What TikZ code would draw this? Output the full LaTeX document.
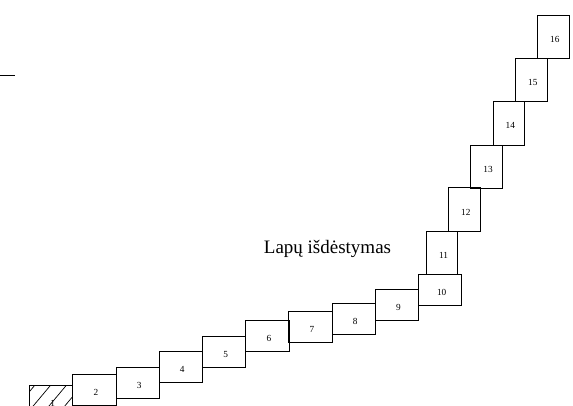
\documentclass[tikz,border=0pt]{standalone}
\usepackage{fontspec}
\setmainfont{Liberation Serif}
\begin{document}
\begin{tikzpicture}[x=1pt,y=1pt,
  lbox/.style={draw=black,line width=0.8pt,minimum width=43.3pt,minimum height=31pt,inner sep=0pt,outer sep=0pt},
  pbox/.style={draw=black,line width=0.8pt,minimum width=31.3pt,minimum height=43.3pt,inner sep=0pt,outer sep=0pt},
  num/.style={font=\fontsize{9.3}{10}\selectfont,inner sep=0pt},
  hatch/.style={line width=0.7pt}]
\useasboundingbox (0,0) rectangle (573,405);
\clip (0,0) rectangle (573,405);
% landscape boxes
\node[lbox] (b1) at (51.2,4.5) {};
\node[lbox] (b2) at (94.35,15.2) {};
\node[lbox] (b3) at (137.65,21.85) {};
\node[lbox] (b4) at (180.8,37.65) {};
\node[lbox] (b5) at (224.15,53) {};
\node[lbox] (b6) at (267.5,68.65) {};
\node[lbox] (b7) at (310.5,78.2) {};
\node[lbox] (b8) at (353.65,86.15) {};
\node[lbox] (b9) at (396.85,99.65) {};
\node[lbox] (b10) at (440.15,115.2) {};
% portrait boxes
\node[pbox] (b11) at (442,152) {};
\node[pbox] (b12) at (464.25,195.5) {};
\node[pbox] (b13) at (486.5,238.35) {};
\node[pbox] (b14) at (508.8,281.65) {};
\node[pbox] (b15) at (531.35,325) {};
\node[pbox] (b16) at (553.35,368.35) {};
% hatching of box 1
\begin{scope}
\clip (b1.south west) rectangle (b1.north east);
\foreach \x in {3.4,19.2,35,50.8,66.6,82.4}{
  \draw[hatch] (\x,20) -- (\x-26,-11);
}
\end{scope}
% numbers
\foreach \i in {1,...,16}{
  \node[num] (n\i) at ([xshift=1.5pt,yshift=-2.5pt]b\i.center) {\i};
}
% title
\node[font=\fontsize{19}{22}\selectfont,inner sep=0pt,anchor=base] (title) at (327.5,151.7) {Lapų išdėstymas};
% short line at left
\coordinate (l1) at (0,329.3);
\coordinate (l2) at (15,329.3);
\draw[line width=1.4pt] (l1) -- (l2);
\end{tikzpicture}
\end{document}
